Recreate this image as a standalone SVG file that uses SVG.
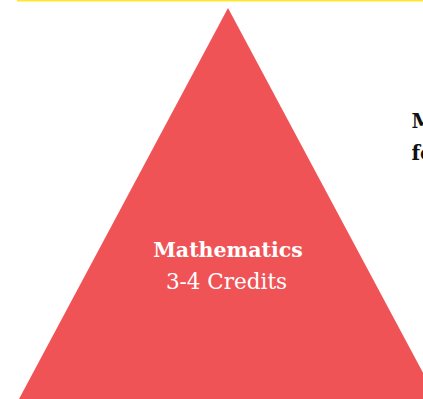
<svg xmlns="http://www.w3.org/2000/svg" width="423" height="399" viewBox="0 0 423 399">
<style>
.lbl{font-family:"DejaVu Serif","Liberation Serif",serif;fill:#ffffff;text-anchor:middle}
.side{font-family:"DejaVu Serif","Liberation Serif",serif;font-weight:bold;fill:#111111;font-size:20px}
</style>
<rect x="0" y="0" width="423" height="399" fill="#ffffff"/>
<rect x="17" y="0" width="406" height="1.5" fill="#ffe82a"/>
<g id="pyramid">
<polygon points="228,8 19,399 437,399" fill="#f05356"/>
<text class="lbl" x="228" y="256.5" font-size="20.5" font-weight="bold">Mathematics</text>
<text class="lbl" x="226.5" y="288.5" font-size="21.5">3-4 Credits</text>
</g>
<g id="side-text">
<text class="side" x="411.5" y="128">M</text>
<text class="side" x="411.5" y="160">fo</text>
</g>
<g id="connectors"/>
</svg>
